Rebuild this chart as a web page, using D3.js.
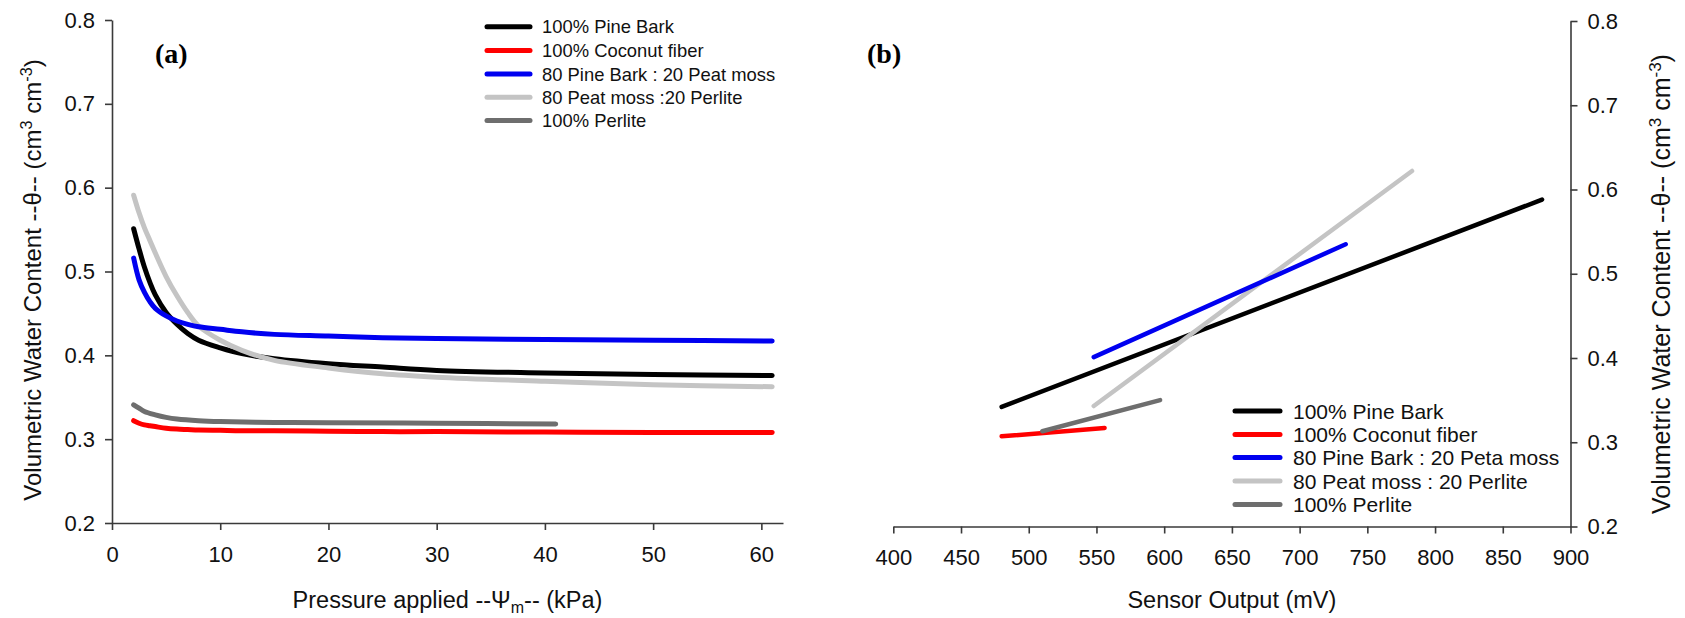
<!DOCTYPE html>
<html>
<head>
<meta charset="utf-8">
<script src="https://cdn.jsdelivr.net/npm/d3@7"></script>
<style>
  html, body { margin: 0; padding: 0; background: #fff; }
  svg { display: block; }
  .axis path, .axis line { stroke: #3a3a3a; stroke-width: 1.6; }
  .axis text { font-family: "Liberation Sans", Arial, sans-serif; font-size: 22px; fill: #111; }
</style>
</head>
<body>
<svg id="chart" width="1685" height="618"></svg>
<script>
// ---- Series definitions -------------------------------------------------
const seriesNames = ["100% Pine Bark", "100% Coconut fiber", "80 Pine Bark : 20 Peat moss", "80 Peat moss :20 Perlite", "100% Perlite"];
const seriesNamesB = ["100% Pine Bark", "100% Coconut fiber", "80 Pine Bark : 20 Peta moss", "80 Peat moss : 20 Perlite", "100% Perlite"];
const seriesColors = ["#000000", "#ff0000", "#0000f0", "#c4c4c4", "#6e6e6e"];

// Panel (a): water retention curves, pressure applied (kPa) vs theta
const pressure = [2, 2.5, 3, 3.5, 4, 5, 6, 7, 8, 10, 12, 15, 20, 25, 30, 40, 50, 61];
const pineBarkA   = [0.551, 0.527, 0.505, 0.487, 0.472, 0.451, 0.437, 0.426, 0.418, 0.409, 0.402, 0.396, 0.390, 0.386, 0.382, 0.379, 0.377, 0.376];
const coconutA    = [0.322, 0.319, 0.317, 0.316, 0.315, 0.313, 0.312, 0.3115, 0.311, 0.3105, 0.310, 0.310, 0.3095, 0.309, 0.309, 0.3085, 0.308, 0.308];
const pbPeatA     = [0.516, 0.490, 0.475, 0.464, 0.456, 0.447, 0.441, 0.437, 0.434, 0.431, 0.428, 0.425, 0.423, 0.421, 0.420, 0.419, 0.418, 0.417];
const peatPerlA   = [0.591, 0.570, 0.552, 0.537, 0.522, 0.494, 0.471, 0.451, 0.435, 0.418, 0.406, 0.394, 0.385, 0.378, 0.374, 0.369, 0.365, 0.3625];
const perlitePressure = [2, 2.5, 3, 4, 5, 6, 8, 10, 15, 20, 30, 41];
const perliteA    = [0.341, 0.337, 0.333, 0.329, 0.326, 0.324, 0.322, 0.321, 0.320, 0.3195, 0.319, 0.318];

// Panel (b): calibration lines, sensor output (mV) vs theta
const pineBarkMV = [480, 879],  pineBarkB = [0.342, 0.588];
const coconutMV  = [480, 556],  coconutB  = [0.307, 0.317];
const pbPeatMV   = [548, 734],  pbPeatB   = [0.401, 0.535];
const peatPerlMV = [548, 783],  peatPerlB = [0.343, 0.622];
const perliteMV  = [510, 597],  perliteB  = [0.313, 0.350];

const yTicks = [0.2, 0.3, 0.4, 0.5, 0.6, 0.7, 0.8];
const xTicksA = [0, 10, 20, 30, 40, 50, 60];
const xTicksB = [400, 450, 500, 550, 600, 650, 700, 750, 800, 850, 900];

// ---- Layout -------------------------------------------------------------
const svg = d3.select("#chart");
const sans = '"Liberation Sans", Arial, sans-serif';

const xA = d3.scaleLinear().domain([0, 62]).range([112, 783]);
const yA = d3.scaleLinear().domain([0.2, 0.8]).range([523, 20]);
const xB = d3.scaleLinear().domain([400, 900]).range([893.3, 1570.5]);
const yB = d3.scaleLinear().domain([0.2, 0.8]).range([526.5, 21]);

const fmt = d3.format(".1f");

// Axes, panel (a)
svg.append("g").attr("class", "axis")
  .attr("transform", `translate(${xA(0)},0)`)
  .call(d3.axisLeft(yA).tickValues(yTicks).tickFormat(fmt).tickSize(7).tickSizeOuter(0).tickPadding(10));
svg.append("g").attr("class", "axis")
  .attr("transform", `translate(0,${yA(0.2)})`)
  .call(d3.axisBottom(xA).tickValues(xTicksA).tickSize(7).tickSizeOuter(0).tickPadding(16));

// Axes, panel (b)
svg.append("g").attr("class", "axis")
  .attr("transform", `translate(${xB(900)},0)`)
  .call(d3.axisRight(yB).tickValues(yTicks).tickFormat(fmt).tickSize(7).tickSizeOuter(0).tickPadding(10));
svg.append("g").attr("class", "axis")
  .attr("transform", `translate(0,${yB(0.2)})`)
  .call(d3.axisBottom(xB).tickValues(xTicksB).tickSize(7).tickSizeOuter(0).tickPadding(16));

// ---- Curves -------------------------------------------------------------
const lineA = d3.line().x(d => xA(d[0])).y(d => yA(d[1])).curve(d3.curveCatmullRom.alpha(0.5));
const curvesA = [
  [pressure, pineBarkA, 0],
  [pressure, peatPerlA, 3],
  [pressure, pbPeatA, 2],
  [perlitePressure, perliteA, 4],
  [pressure, coconutA, 1]
];
curvesA.forEach(([xs, ys, k]) => {
  svg.append("path")
    .datum(d3.zip(xs, ys))
    .attr("d", lineA)
    .attr("fill", "none")
    .attr("stroke", seriesColors[k])
    .attr("stroke-width", 5)
    .attr("stroke-linecap", "round")
    .attr("stroke-linejoin", "round");
});

const lineB = d3.line().x(d => xB(d[0])).y(d => yB(d[1]));
const curvesB = [
  [pineBarkMV, pineBarkB, 0],
  [peatPerlMV, peatPerlB, 3],
  [pbPeatMV, pbPeatB, 2],
  [coconutMV, coconutB, 1],
  [perliteMV, perliteB, 4]
];
curvesB.forEach(([xs, ys, k]) => {
  svg.append("path")
    .datum(d3.zip(xs, ys))
    .attr("d", lineB)
    .attr("fill", "none")
    .attr("stroke", seriesColors[k])
    .attr("stroke-width", 4.5)
    .attr("stroke-linecap", "round");
});

// ---- Legends ------------------------------------------------------------
function legend(names, x0, x1, tx, rows, size) {
  const g = svg.append("g");
  names.forEach((name, i) => {
    g.append("line")
      .attr("x1", x0).attr("x2", x1)
      .attr("y1", rows[i]).attr("y2", rows[i])
      .attr("stroke", seriesColors[i]).attr("stroke-width", 5)
      .attr("stroke-linecap", "round");
    g.append("text")
      .attr("x", tx).attr("y", rows[i])
      .attr("dy", "0.36em")
      .attr("font-family", sans).attr("font-size", size)
      .attr("fill", "#111")
      .text(name);
  });
}
legend(seriesNames, 487, 530, 542, [26.7, 50.5, 74, 97.3, 120.5], 18.4);
legend(seriesNamesB, 1235, 1280, 1293, [411, 434.5, 457.5, 481, 504.5], 21);

// ---- Panel labels -------------------------------------------------------
svg.append("text").attr("x", 155).attr("y", 63)
  .attr("font-family", '"Liberation Serif", "Times New Roman", serif')
  .attr("font-weight", "bold").attr("font-size", 28).text("(a)");
svg.append("text").attr("x", 867).attr("y", 63)
  .attr("font-family", '"Liberation Serif", "Times New Roman", serif')
  .attr("font-weight", "bold").attr("font-size", 28).text("(b)");

// ---- Axis titles --------------------------------------------------------
const xTitleA = svg.append("text")
  .attr("x", (xA(0) + xA(62)) / 2).attr("y", 608)
  .attr("text-anchor", "middle")
  .attr("font-family", sans).attr("font-size", 23.5).attr("fill", "#111");
xTitleA.append("tspan").text("Pressure applied --Ψ");
xTitleA.append("tspan").attr("font-size", 16).attr("dy", 5).text("m");
xTitleA.append("tspan").attr("dy", -5).text("-- (kPa)");

svg.append("text")
  .attr("x", (xB(400) + xB(900)) / 2).attr("y", 608)
  .attr("text-anchor", "middle")
  .attr("font-family", sans).attr("font-size", 23.5).attr("fill", "#111")
  .text("Sensor Output (mV)");

function yTitle(x, yc, size) {
  const sup = size * 0.68, shift = size * 0.38;
  const t = svg.append("text")
    .attr("transform", `translate(${x},${yc}) rotate(-90)`)
    .attr("text-anchor", "middle")
    .attr("font-family", sans).attr("font-size", size).attr("fill", "#111");
  t.append("tspan").text("Volumetric Water Content --θ-- (cm");
  t.append("tspan").attr("font-size", sup).attr("dy", -shift).text("3");
  t.append("tspan").attr("dy", shift).text(" cm");
  t.append("tspan").attr("font-size", sup).attr("dy", -shift).text("-3");
  t.append("tspan").attr("dy", shift).text(")");
}
yTitle(41, 280, 24);
yTitle(1670, 284, 25);
</script>
</body>
</html>
